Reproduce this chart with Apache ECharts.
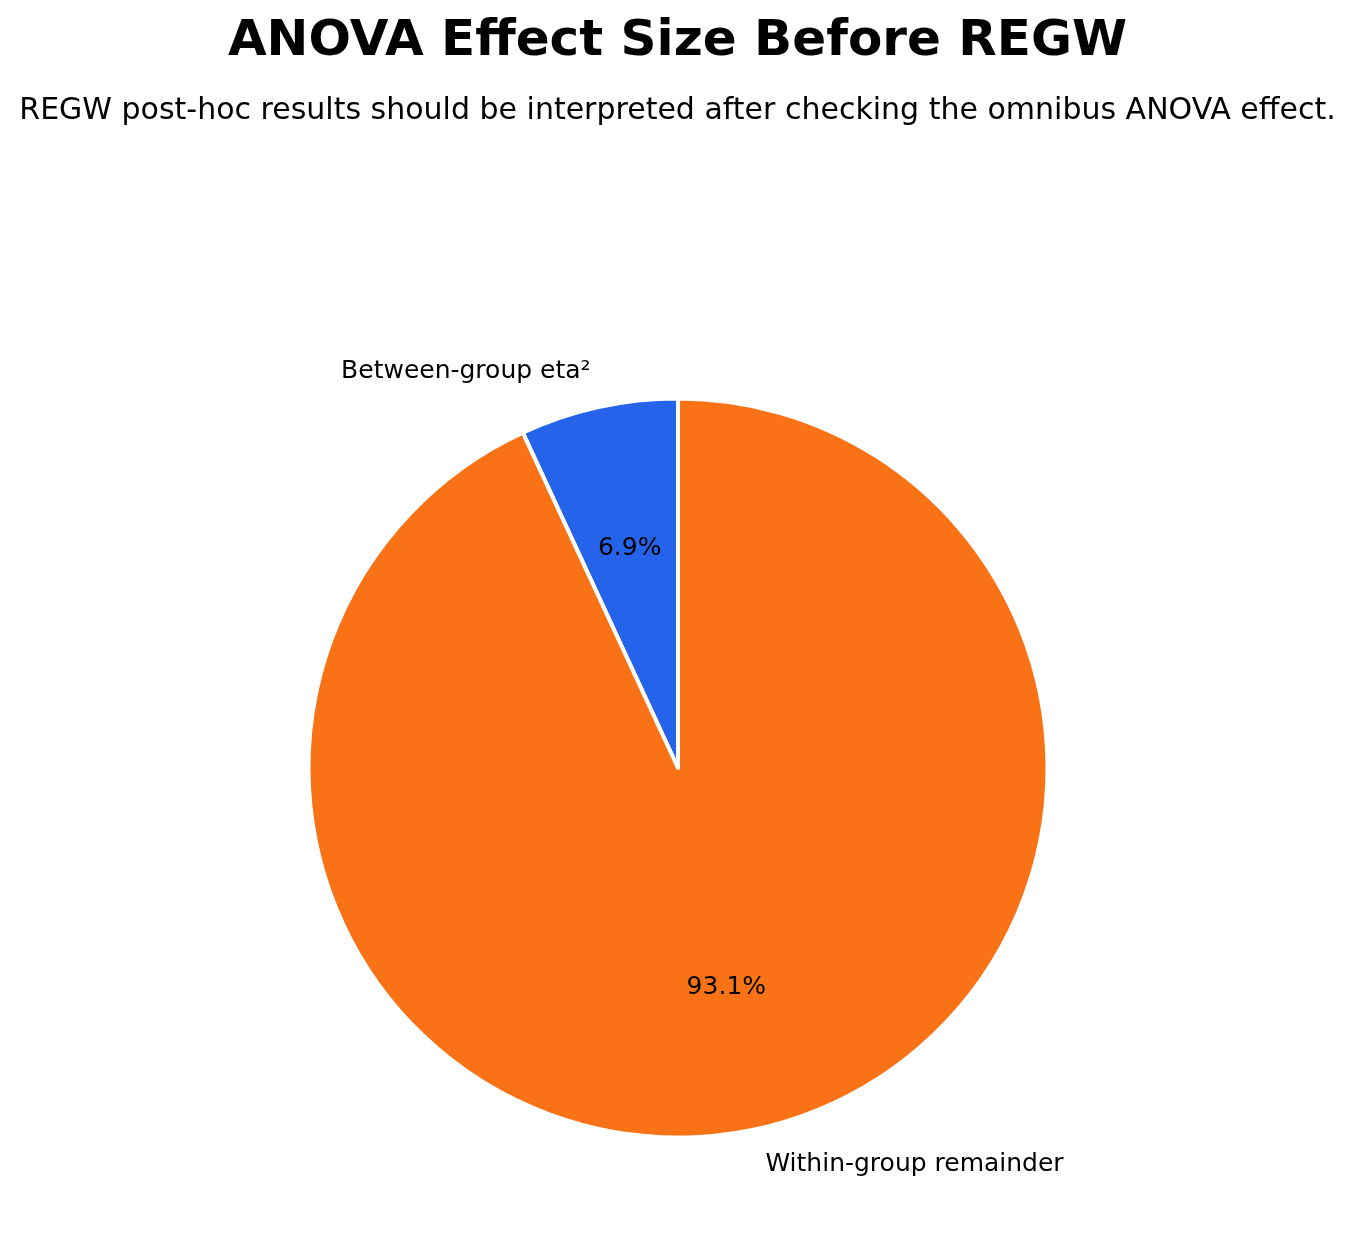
<!DOCTYPE html>
<html>
<head>
<meta charset="utf-8">
<script src="https://cdn.jsdelivr.net/npm/echarts@6/dist/echarts.min.js"></script>
<style>
html,body{margin:0;padding:0;background:#fff;}
#chart{width:1355px;height:1250px;}
</style>
</head>
<body>
<div id="chart"></div>
<script>
const titleText = 'ANOVA Effect Size Before REGW';
const subtitleText = 'REGW post-hoc results should be interpreted after checking the omnibus ANOVA effect.';
const categories = ['Between-group eta\u00b2', 'Within-group remainder'];
const shares = [6.9, 93.1];
const colors = ['#2563EB', '#F97316'];

const FONT = 'DejaVu Sans';
const cx = 678, cy = 768, R = 369.5;

const pieData = categories.map((name, i) => ({ name: name, value: shares[i], itemStyle: { color: colors[i] } }));

const chart = echarts.init(document.getElementById('chart'), null, { renderer: 'canvas' });
chart.setOption({
  backgroundColor: '#ffffff',
  animation: false,
  title: [
    { text: titleText, left: 'center', top: 12,
      textStyle: { fontFamily: FONT, fontSize: 50, fontWeight: 'bold', color: '#000' } },
    { text: subtitleText, left: 'center', top: 91,
      textStyle: { fontFamily: FONT, fontSize: 30, fontWeight: 'normal', color: '#000' } }
  ],
  series: [
    {
      type: 'pie',
      center: [cx, cy],
      radius: [0, R],
      startAngle: 90,
      clockwise: false,
      avoidLabelOverlap: false,
      silent: true,
      data: pieData,
      itemStyle: { borderColor: '#ffffff', borderWidth: 4 },
      label: {
        show: true, position: 'outside', distanceToLabelLine: 0,
        fontFamily: FONT, fontSize: 25, color: '#000',
        formatter: p => p.name
      },
      labelLine: { show: false, length: R * 0.1, length2: 0 }
    },
    {
      type: 'pie',
      center: [cx, cy],
      radius: [0, R * 1.2],
      startAngle: 90,
      clockwise: false,
      avoidLabelOverlap: false,
      silent: true,
      z: 5,
      data: categories.map((name, i) => ({ name: name, value: shares[i] })),
      itemStyle: { color: 'rgba(0,0,0,0)', borderWidth: 0 },
      label: {
        show: true, position: 'inside',
        fontFamily: FONT, fontSize: 25, color: '#000',
        formatter: p => p.percent.toFixed(1) + '%'
      },
      labelLine: { show: false }
    }
  ]
});
</script>
</body>
</html>
